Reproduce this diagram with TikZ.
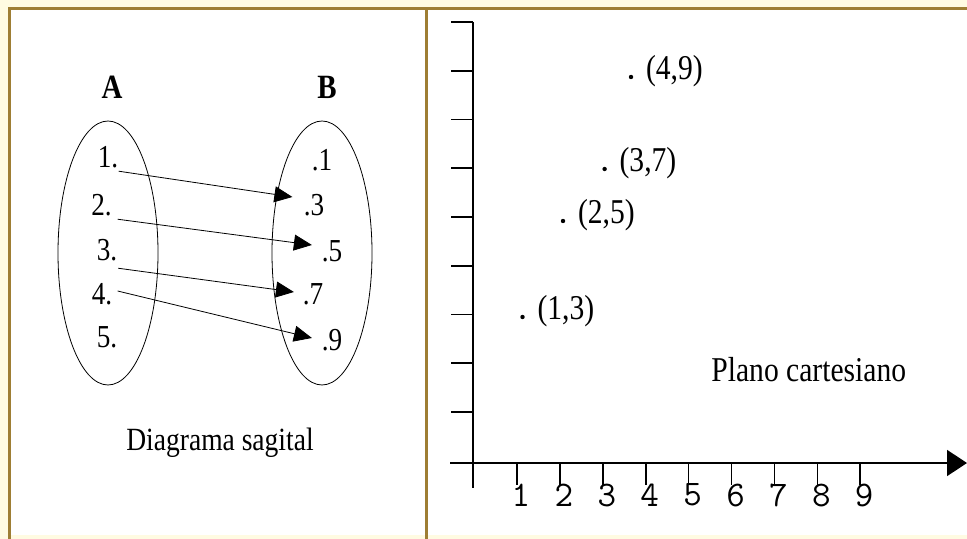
\documentclass[tikz,border=0pt]{standalone}
\usepackage{fontspec}
\setmainfont{Liberation Serif}[FakeStretch=0.85]
\usetikzlibrary{shapes.geometric,arrows.meta,positioning}
\definecolor{framegold}{RGB}{158,126,52}
\definecolor{paper}{RGB}{255,251,226}

\begin{document}
\begin{tikzpicture}[
    x=0.5pt, y=-0.5pt,
    setlabel/.style={font=\fontsize{17}{19}\selectfont\bfseries, inner sep=0pt},
    elem/.style={font=\fontsize{16}{18}\selectfont, inner sep=0pt},
    caption/.style={font=\fontsize{16.2}{18}\selectfont, inner sep=0pt},
    pairlabel/.style={font=\fontsize{17.4}{19}\selectfont, inner sep=0pt, right=6pt of #1, yshift=3pt},
    ticklabel/.style={font=\ttfamily\fontsize{18}{20}\selectfont, inner sep=0pt},
    ptdot/.style={circle, fill=black, inner sep=0pt, minimum size=2.2pt},
    setoval/.style={ellipse, draw, thin, minimum width=50pt, minimum height=132pt},
    panelframe/.style={draw=framegold, line width=1.5pt},
    arrow/.style={-{Triangle[length=9pt, width=8pt]}, thin},
    axisline/.style={line width=0.8pt},
    axisarrow/.style={-{Triangle[length=10pt, width=13pt]}, line width=0.8pt}
]
\useasboundingbox (0,0) rectangle (967,539);

% Background and frame
\fill[paper] (0,0) rectangle (967,539);
\fill[white] (9,9) rectangle (967,535);
\draw[panelframe] (9,539) -- (9,9) -- (967,9);
\draw[panelframe] (426,9) -- (426,539);

% Sagittal diagram
\node[setlabel] (nameA) at (112,87) {A};
\node[setlabel] (nameB) at (327,87) {B};
\node[setoval] (setA) at (108,253) {};
\node[setoval] (setB) at (322,253) {};

\node[elem] (a1) at (108,157.5) {1.};
\node[elem] (a2) at (101.5,205) {2.};
\node[elem] (a3) at (107,250) {3.};
\node[elem] (a4) at (102,294) {4.};
\node[elem] (a5) at (107,337) {5.};

\node[elem] (b1) at (322,160) {.1};
\node[elem] (b3) at (314,205) {.3};
\node[elem] (b5) at (332,251) {.5};
\node[elem] (b7) at (313,294) {.7};
\node[elem] (b9) at (332,340) {.9};

\draw[arrow] ([shift={(0,2.5)}]a1.south east) -- ([shift={(-11,-8)}]b3.west);
\draw[arrow] ([shift={(5.5,3)}]a2.south east) -- ([shift={(-9.5,-6)}]b5.west);
\draw[arrow] ([shift={(0.5,7)}]a3.south east) -- ([shift={(-8.5,-2)}]b7.west);
\draw[arrow] ([shift={(5,-3)}]a4.east) -- ([shift={(-9.5,-2)}]b9.west);

\node[caption] (sagital) at (220,443) {Diagrama sagital};

% Cartesian plane
\coordinate (ytop) at (473,22);
\coordinate (ybot) at (473,488);
\coordinate (xleft) at (450,463);
\coordinate (xright) at (967,463);
\draw[axisline] (ytop) -- (ybot);
\draw[axisarrow] (xleft) -- (xright);
\foreach \k in {0,...,8}
  \draw[axisline] (451,{22+48.75*\k}) -- (473,{22+48.75*\k});
\foreach \n in {1,...,9} {
  \draw[axisline] ({517+42.9*(\n-1)},463) -- ++(0,22);
  \node[ticklabel] (t\n) at ({521+42.9*(\n-1)},495) {\n};
}

\node[ptdot] (p13) at (522.5,317) {};
\node[ptdot] (p25) at (563,221) {};
\node[ptdot] (p37) at (604.6,169) {};
\node[ptdot] (p49) at (631,77) {};
\node[pairlabel=p13] (l13) {(1,3)};
\node[pairlabel=p25] (l25) {(2,5)};
\node[pairlabel=p37] (l37) {(3,7)};
\node[pairlabel=p49] (l49) {(4,9)};

\node[caption, font=\fontsize{17.4}{19}\selectfont, anchor=west] (plano) at (711,370) {Plano cartesiano};

\end{tikzpicture}
\end{document}
